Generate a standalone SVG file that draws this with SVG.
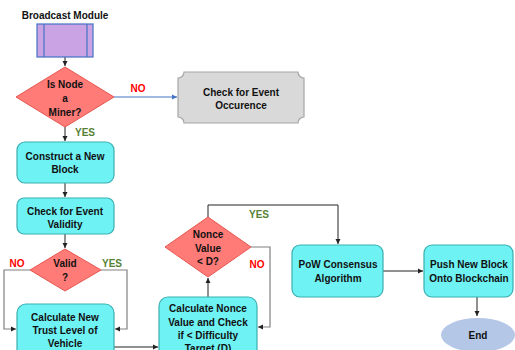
<svg xmlns="http://www.w3.org/2000/svg" width="515" height="350" viewBox="0 0 515 350">
  <style>
    text { font-family: "Liberation Sans", Arial, sans-serif; font-weight: bold; font-size: 10px; text-anchor: middle; dominant-baseline: central; fill: #111; }
    .proc { fill: #6EF2F4; stroke: #3AAFB0; stroke-width: 1.2; }
    .dec { fill: #FF7B78; stroke: #E8564F; stroke-width: 1; }
    .yes { fill: #548235; }
    .no { fill: #FF0000; }
    .ln { fill: none; stroke: #222; stroke-width: 1; }
    .lg { fill: none; stroke: #808080; stroke-width: 1.2; }
    .lb { fill: none; stroke: #4472C4; stroke-width: 1; }
  </style>
  <defs>
    <marker id="ah" markerWidth="6" markerHeight="6" refX="5" refY="3" orient="auto" markerUnits="userSpaceOnUse">
      <path d="M0,0.5 L5,3 L0,5.5 Z" fill="#222"/>
    </marker>
    <marker id="ahb" markerWidth="6" markerHeight="6" refX="5" refY="3" orient="auto" markerUnits="userSpaceOnUse">
      <path d="M0,0.5 L5,3 L0,5.5 Z" fill="#4472C4"/>
    </marker>
  </defs>

  <g id="connectors">
    <path class="ln" d="M65,57 V66" marker-end="url(#ah)"/>
    <path class="lb" d="M114,97 H177" marker-end="url(#ahb)"/>
    <path class="ln" d="M65,127 V141" marker-end="url(#ah)"/>
    <path class="ln" d="M65,183 V197" marker-end="url(#ah)"/>
    <path class="ln" d="M65,234 V248" marker-end="url(#ah)"/>
    <path class="lg" d="M30,270 H4 V329 H16" marker-end="url(#ah)"/>
    <path class="lg" d="M101,270 H127 V329 H115" marker-end="url(#ah)"/>
    <path class="ln" d="M114,347 H158" marker-end="url(#ah)"/>
    <path class="ln" d="M208,297 V278" marker-end="url(#ah)"/>
    <path class="ln" d="M208,217 V205 H338 V244" marker-end="url(#ah)"/>
    <path class="lg" d="M251,247 H270 V327 H258" marker-end="url(#ah)"/>
    <path class="ln" d="M383,271 H423" marker-end="url(#ah)"/>
    <path class="ln" d="M477,297 V316" marker-end="url(#ah)"/>
  </g>

  <g id="broadcast">
    <text x="65" y="15">Broadcast Module</text>
    <rect x="37" y="24" width="56" height="33" fill="#C9A3E3" stroke="#4472C4" stroke-width="1.2"/>
    <line x1="44" y1="24" x2="44" y2="57" stroke="#4472C4" stroke-width="1.2"/>
    <line x1="87" y1="24" x2="87" y2="57" stroke="#4472C4" stroke-width="1.2"/>
  </g>

  <g id="is-miner">
    <polygon class="dec" points="65,67 114,97 65,127 16,97"/>
    <text x="65" y="84">Is Node</text>
    <text x="65" y="98">a</text>
    <text x="65" y="112">Miner?</text>
    <text class="no" x="138" y="88">NO</text>
    <text class="yes" x="85" y="132">YES</text>
  </g>

  <g id="event-occurence">
    <path d="M184,72 H298 A6,6 0 0 0 304,78 V117 A6,6 0 0 0 298,123 H184 A6,6 0 0 0 178,117 V78 A6,6 0 0 0 184,72 Z" fill="#D9D9D9" stroke="#A6A6A6" stroke-width="1.2"/>
    <text x="241" y="92">Check for Event</text>
    <text x="241" y="105">Occurence</text>
  </g>

  <g id="construct">
    <rect class="proc" x="17" y="142" width="97" height="41" rx="8"/>
    <text x="65" y="156">Construct a New</text>
    <text x="65" y="169">Block</text>
  </g>

  <g id="validity">
    <rect class="proc" x="17" y="198" width="97" height="36" rx="7"/>
    <text x="65" y="211">Check for Event</text>
    <text x="65" y="224">Validity</text>
  </g>

  <g id="valid">
    <polygon class="dec" points="65,249 101,270 65,291 30,270"/>
    <text x="65" y="263">Valid</text>
    <text x="65" y="277">?</text>
    <text class="no" x="17" y="263">NO</text>
    <text class="yes" x="112" y="263">YES</text>
  </g>

  <g id="trust">
    <rect class="proc" x="17" y="304" width="97" height="60" rx="9"/>
    <text x="65" y="317">Calculate New</text>
    <text x="65" y="330">Trust Level of</text>
    <text x="65" y="343">Vehicle</text>
  </g>

  <g id="nonce-calc">
    <rect class="proc" x="159" y="297" width="98" height="70" rx="9"/>
    <text x="208" y="308">Calculate Nonce</text>
    <text x="208" y="322">Value and Check</text>
    <text x="208" y="335">if &lt; Difficulty</text>
    <text x="208" y="348">Target (D)</text>
  </g>

  <g id="nonce-check">
    <polygon class="dec" points="208,217 251,247 208,277 165,247"/>
    <text x="208" y="234">Nonce</text>
    <text x="208" y="248">Value</text>
    <text x="208" y="261">&lt; D?</text>
    <text class="yes" x="259" y="214">YES</text>
    <text class="no" x="257" y="264">NO</text>
  </g>

  <g id="pow">
    <rect class="proc" x="292" y="245" width="91" height="52" rx="8"/>
    <text x="338" y="264">PoW Consensus</text>
    <text x="338" y="278">Algorithm</text>
  </g>

  <g id="push">
    <rect class="proc" x="424" y="245" width="89" height="52" rx="8"/>
    <text x="469" y="264">Push New Block</text>
    <text x="469" y="278">Onto Blockchain</text>
  </g>

  <g id="end">
    <ellipse cx="478" cy="335" rx="37" ry="17" fill="#B4C7E7"/>
    <text x="478" y="335">End</text>
  </g>
</svg>
